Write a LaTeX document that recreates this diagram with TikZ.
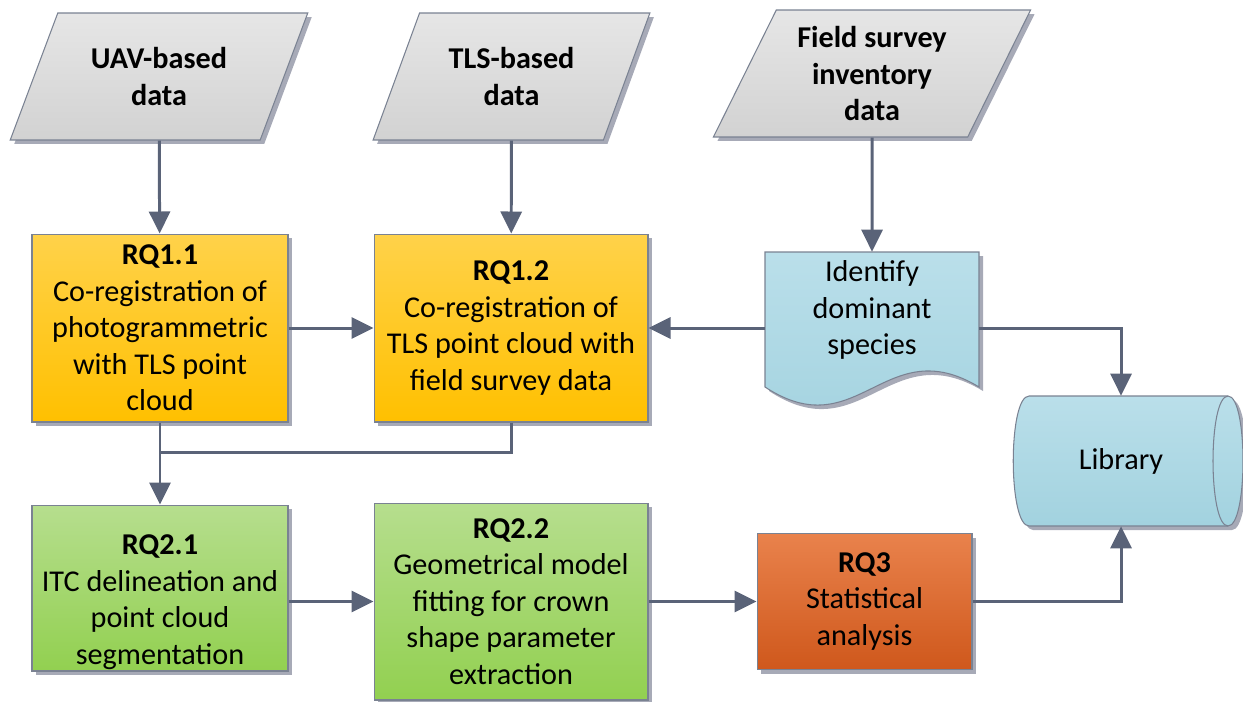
\documentclass[tikz,border=0pt]{standalone}
\usepackage{fontspec}
\setmainfont{Carlito}
\usetikzlibrary{shapes.geometric, shadows, arrows.meta, positioning}

\definecolor{linec}{HTML}{5A6378}
\definecolor{edgec}{HTML}{7A8292}
\definecolor{shadowc}{HTML}{A7AAB7}
\definecolor{grayt}{HTML}{E6E6E6}
\definecolor{grayb}{HTML}{D2D2D2}
\definecolor{yelt}{HTML}{FFD24A}
\definecolor{yelb}{HTML}{FFC000}
\definecolor{grnt}{HTML}{B6DE8E}
\definecolor{grnb}{HTML}{92D050}
\definecolor{orgt}{HTML}{E9824C}
\definecolor{orgb}{HTML}{CF581C}
\definecolor{blut}{HTML}{BADFEA}
\definecolor{blub}{HTML}{A2D2DF}

\newcommand{\boxfont}{\fontsize{17.2}{20.8}\selectfont}

\tikzset{
  shapebase/.style={draw=edgec, line width=0.6pt, align=center, font=\boxfont,
    drop shadow={shadow xshift=0.08cm, shadow yshift=-0.08cm, fill=shadowc, opacity=1}},
  databox/.style={shapebase, trapezium, trapezium left angle=63.5,
    trapezium right angle=116.5, trapezium stretches=true,
    top color=grayt, bottom color=grayb, font=\boxfont\bfseries, minimum height=2.54cm},
  yelbox/.style={shapebase, rectangle, top color=yelt, bottom color=yelb},
  grnbox/.style={shapebase, rectangle, top color=grnt, bottom color=grnb},
  orgbox/.style={shapebase, rectangle, top color=orgt, bottom color=orgb},
  blushape/.style={draw=edgec, line width=0.6pt, top color=blut, bottom color=blub,
    drop shadow={shadow xshift=0.08cm, shadow yshift=-0.08cm, fill=shadowc, opacity=1}},
  flow/.style={draw=linec, line width=1.7pt, -{Triangle[width=0.42cm,length=0.44cm]}},
  link/.style={draw=linec, line width=1.7pt}
}

\begin{document}
\begin{tikzpicture}[x=0.02cm, y=-0.02cm]
\useasboundingbox (0,0) rectangle (1243,701);

\node[databox, minimum width=5.96cm] (uav) at (159,76.5) {UAV-based\\data};
\node[databox, minimum width=5.54cm] (tls) at (511.5,76.5) {TLS-based\\data};
\node[databox, minimum width=6.36cm] (fsd) at (872,73.5) {Field survey\\inventory\\data};

\node[yelbox, minimum width=5.12cm, minimum height=3.76cm] (rq11) at (160,328)
    {\textbf{RQ1.1}\\Co-registration of\\photogrammetric\\with TLS point\\cloud};
\node[yelbox, minimum width=5.48cm, minimum height=3.76cm] (rq12) at (511,328)
    {\textbf{RQ1.2}\\Co-registration of\\TLS point cloud with\\field survey data};

\path[blushape] (765,252) -- (979,252) -- (979,387)
    .. controls (885,330) and (858,448) .. (765,387) -- cycle;
\node[align=center, font=\boxfont, minimum width=4.28cm, minimum height=2.32cm] (idsp) at (872,310)
    {Identify\\dominant\\species};

\path[blushape] (1029,396) -- (1228,396) .. controls (1248,396) and (1248,526) .. (1228,526)
    -- (1029,526) .. controls (1008,526) and (1008,396) .. (1029,396) -- cycle;
\draw[edgec, line width=0.6pt] (1228,396) .. controls (1208,396) and (1208,526) .. (1228,526);
\node[font=\boxfont, minimum width=4cm, minimum height=2.6cm] (lib) at (1121,461) {Library};

\node[grnbox, minimum width=5.12cm, minimum height=3.32cm,
    label={[align=center, font=\boxfont, yshift=-0.28cm]center:{\textbf{RQ2.1}\\ITC delineation and\\point cloud\\segmentation}}]
    (rq21) at (160,588) {};
\node[grnbox, minimum width=5.48cm, minimum height=3.94cm] (rq22) at (511,601.5)
    {\textbf{RQ2.2}\\Geometrical model\\fitting for crown\\shape parameter\\extraction};
\node[orgbox, minimum width=4.3cm, minimum height=2.72cm] (rq3) at (864.5,601.5)
    {\textbf{RQ3}\\Statistical\\analysis};

\draw[flow] (uav) -- (rq11);
\draw[flow] (tls) -- (rq12);
\draw[flow] (fsd) -- (idsp);
\draw[flow] (rq11) -- (rq12);
\draw[flow] (idsp.west |- rq12) -- (rq12);
\draw[flow] (idsp.east |- rq12) -| (lib.north);
\draw[link] (rq12.south) -- ++(0,30) -| (rq11.south);
\draw[flow] (rq11) -- (rq21);
\draw[flow] (rq21.east |- rq3) -- (rq22.west |- rq3);
\draw[flow] (rq22.east |- rq3) -- (rq3);
\draw[flow] (rq3) -| (lib.south);
\end{tikzpicture}
\end{document}
